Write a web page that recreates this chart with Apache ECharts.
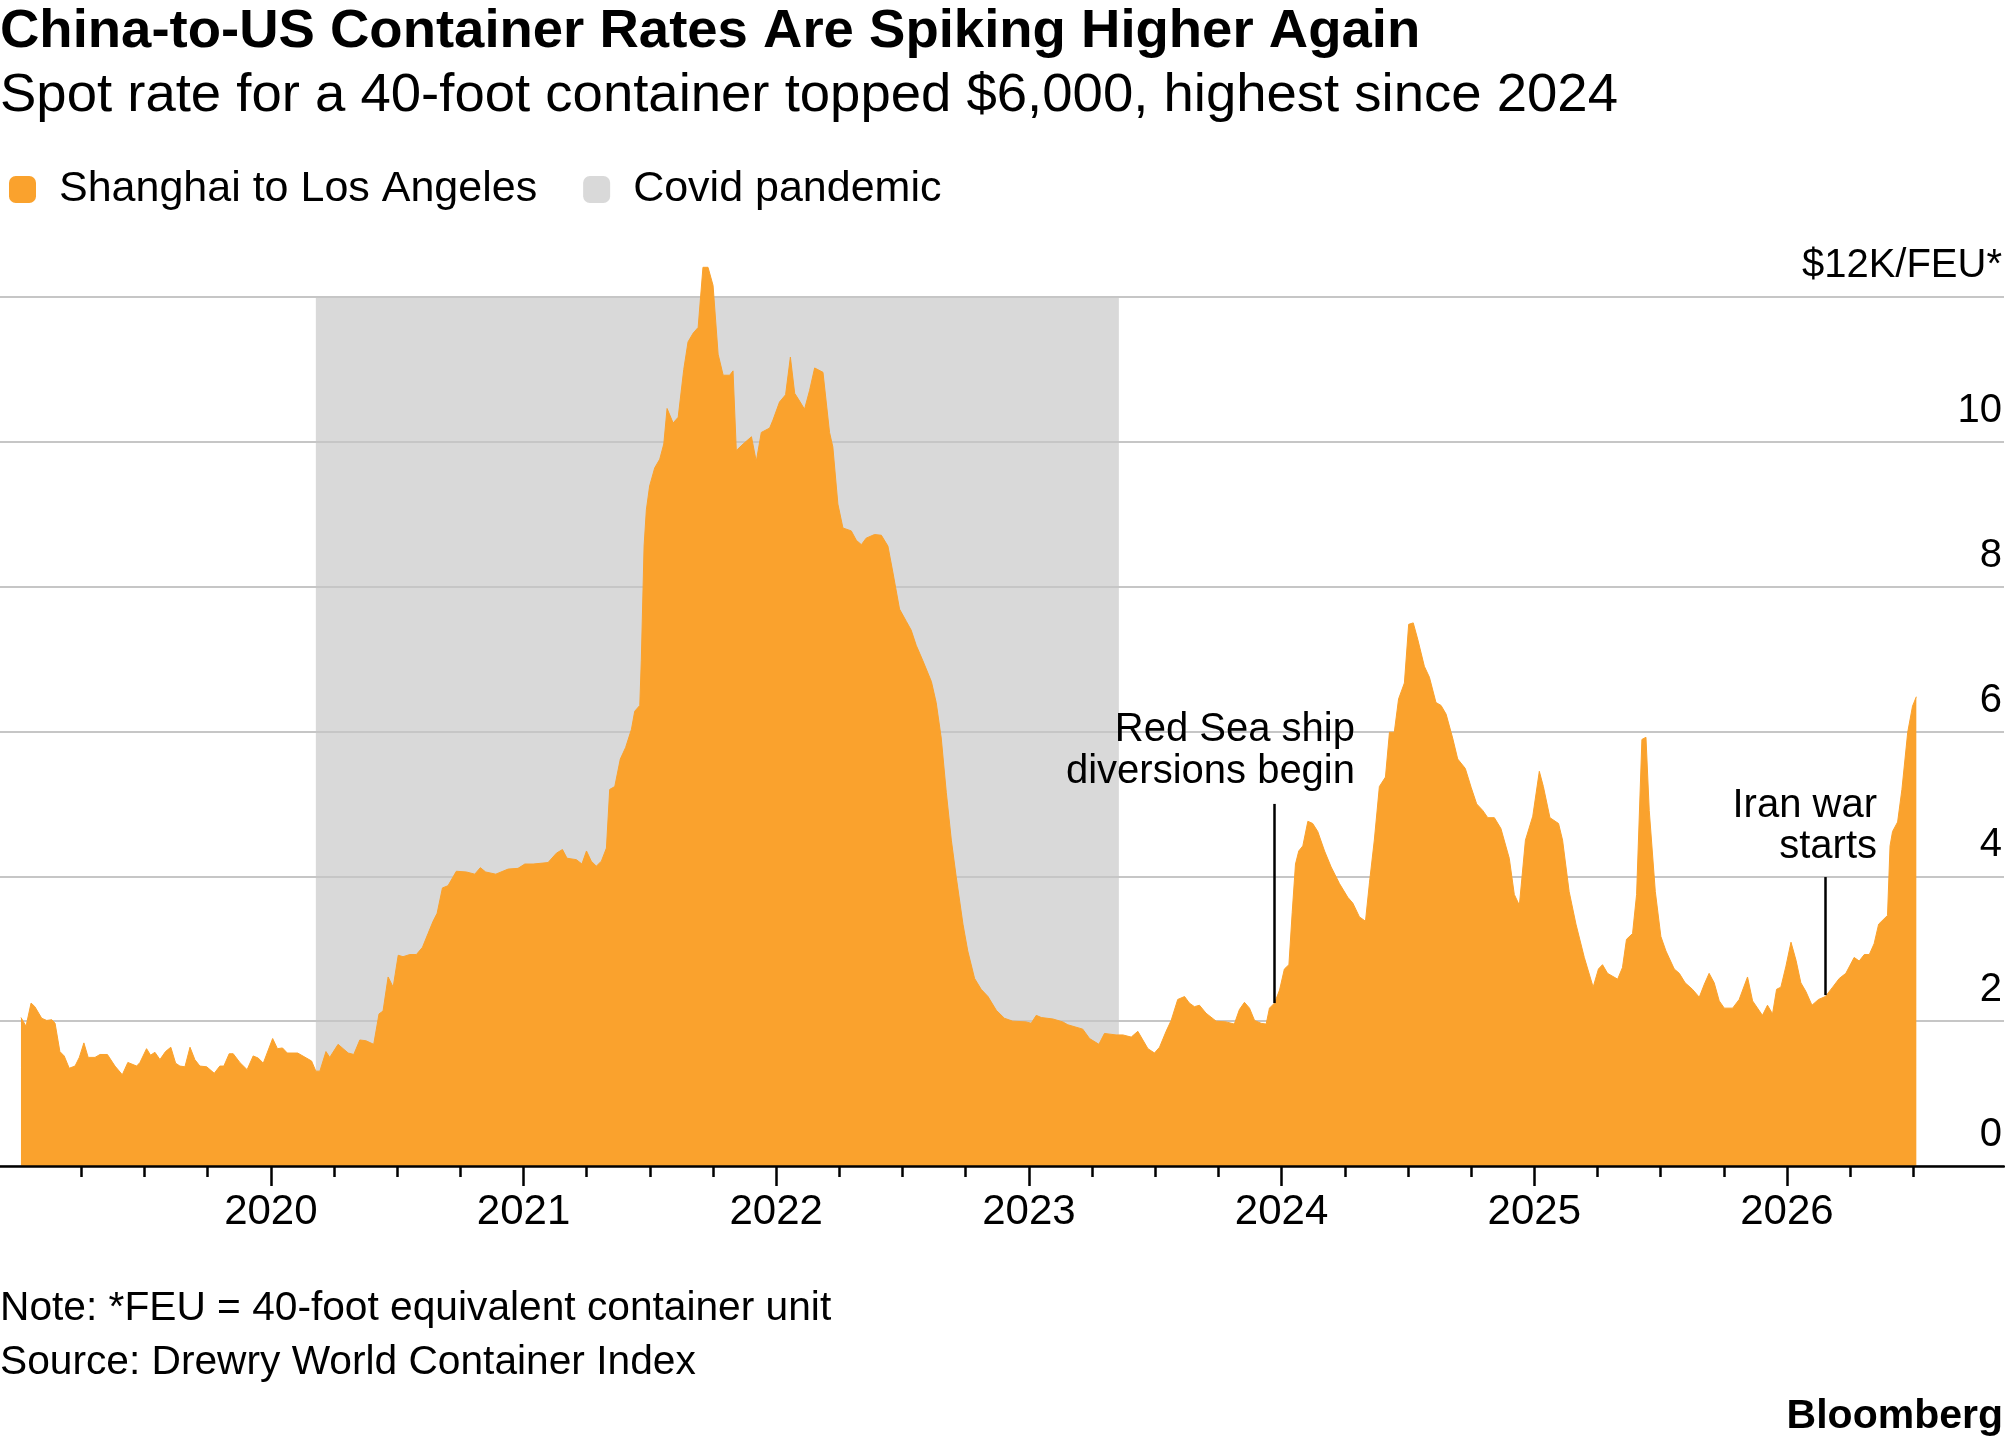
<!DOCTYPE html>
<html>
<head>
<meta charset="utf-8">
<script src="https://cdn.jsdelivr.net/npm/echarts@6/dist/echarts.min.js"></script>
<style>
  html, body { margin: 0; padding: 0; background: #fff; }
  #chart { width: 2005px; height: 1446px; }
</style>
</head>
<body>
<div id="chart"></div>
<script>
// weekly spot rate, Shanghai -> Los Angeles, $K per FEU (x in decimal years)
const dates = [
  2019.011, 2019.031, 2019.051, 2019.066, 2019.093, 2019.113, 2019.133, 2019.146, 2019.165, 2019.182,
  2019.202, 2019.225, 2019.242, 2019.260, 2019.277, 2019.304, 2019.324, 2019.353, 2019.383, 2019.412,
  2019.434, 2019.469, 2019.482, 2019.508, 2019.524, 2019.541, 2019.561, 2019.583, 2019.604, 2019.623,
  2019.640, 2019.660, 2019.680, 2019.699, 2019.719, 2019.746, 2019.776, 2019.798, 2019.814, 2019.835,
  2019.851, 2019.877, 2019.906, 2019.930, 2019.950, 2019.970, 2020.007, 2020.026, 2020.046, 2020.065,
  2020.106, 2020.161, 2020.178, 2020.194, 2020.218, 2020.233, 2020.266, 2020.286, 2020.306, 2020.328,
  2020.352, 2020.376, 2020.407, 2020.428, 2020.444, 2020.464, 2020.484, 2020.504, 2020.523, 2020.550,
  2020.576, 2020.600, 2020.622, 2020.642, 2020.658, 2020.679, 2020.701, 2020.734, 2020.774, 2020.807,
  2020.829, 2020.850, 2020.890, 2020.939, 2020.978, 2021.005, 2021.038, 2021.097, 2021.130, 2021.154,
  2021.172, 2021.209, 2021.231, 2021.249, 2021.268, 2021.288, 2021.308, 2021.328, 2021.341, 2021.361,
  2021.383, 2021.404, 2021.427, 2021.440, 2021.460, 2021.466, 2021.477, 2021.486, 2021.499, 2021.519,
  2021.539, 2021.555, 2021.568, 2021.592, 2021.612, 2021.634, 2021.651, 2021.671, 2021.691, 2021.710,
  2021.730, 2021.750, 2021.770, 2021.790, 2021.816, 2021.829, 2021.842, 2021.869, 2021.902, 2021.921,
  2021.941, 2021.974, 2021.987, 2022.013, 2022.037, 2022.056, 2022.073, 2022.093, 2022.112, 2022.132,
  2022.152, 2022.185, 2022.211, 2022.224, 2022.244, 2022.264, 2022.297, 2022.317, 2022.337, 2022.356,
  2022.389, 2022.416, 2022.442, 2022.462, 2022.488, 2022.515, 2022.534, 2022.554, 2022.580, 2022.614,
  2022.633, 2022.653, 2022.673, 2022.693, 2022.712, 2022.739, 2022.758, 2022.785, 2022.811, 2022.838,
  2022.871, 2022.903, 2022.936, 2022.989, 2023.009, 2023.029, 2023.049, 2023.095, 2023.134, 2023.154,
  2023.213, 2023.240, 2023.277, 2023.299, 2023.345, 2023.372, 2023.405, 2023.431, 2023.471, 2023.497,
  2023.517, 2023.543, 2023.563, 2023.589, 2023.616, 2023.635, 2023.655, 2023.675, 2023.701, 2023.741,
  2023.780, 2023.813, 2023.833, 2023.853, 2023.873, 2023.893, 2023.919, 2023.939, 2023.952, 2023.972,
  2023.992, 2024.011, 2024.029, 2024.042, 2024.055, 2024.068, 2024.084, 2024.104, 2024.123, 2024.143,
  2024.170, 2024.196, 2024.229, 2024.262, 2024.282, 2024.308, 2024.332, 2024.348, 2024.367, 2024.387,
  2024.411, 2024.427, 2024.446, 2024.463, 2024.486, 2024.503, 2024.521, 2024.539, 2024.565, 2024.585,
  2024.611, 2024.631, 2024.651, 2024.677, 2024.697, 2024.727, 2024.750, 2024.772, 2024.796, 2024.816,
  2024.842, 2024.868, 2024.901, 2024.921, 2024.941, 2024.965, 2024.994, 2025.020, 2025.036, 2025.062,
  2025.096, 2025.112, 2025.138, 2025.165, 2025.198, 2025.233, 2025.254, 2025.270, 2025.290, 2025.330,
  2025.349, 2025.365, 2025.389, 2025.405, 2025.426, 2025.442, 2025.455, 2025.479, 2025.501, 2025.521,
  2025.554, 2025.574, 2025.597, 2025.626, 2025.653, 2025.673, 2025.692, 2025.712, 2025.732, 2025.752,
  2025.785, 2025.811, 2025.844, 2025.864, 2025.903, 2025.923, 2025.943, 2025.959, 2025.976, 2025.996,
  2026.016, 2026.036, 2026.055, 2026.075, 2026.099, 2026.125, 2026.152, 2026.181, 2026.207, 2026.233,
  2026.266, 2026.286, 2026.306, 2026.326, 2026.345, 2026.363, 2026.398, 2026.408, 2026.418, 2026.438,
  2026.455, 2026.478, 2026.497, 2026.512
];
const rates = [
  2.05, 1.93, 2.25, 2.20, 2.04, 2.01, 2.02, 1.97, 1.58, 1.52,
  1.35, 1.38, 1.50, 1.70, 1.50, 1.50, 1.54, 1.54, 1.38, 1.26,
  1.43, 1.38, 1.43, 1.62, 1.53, 1.57, 1.47, 1.58, 1.64, 1.42,
  1.38, 1.37, 1.64, 1.47, 1.38, 1.37, 1.28, 1.38, 1.38, 1.55,
  1.55, 1.43, 1.33, 1.52, 1.49, 1.42, 1.76, 1.62, 1.63, 1.56,
  1.56, 1.45, 1.31, 1.31, 1.58, 1.50, 1.68, 1.62, 1.56, 1.54,
  1.74, 1.73, 1.68, 2.10, 2.14, 2.61, 2.47, 2.91, 2.89, 2.92,
  2.92, 3.02, 3.21, 3.38, 3.49, 3.84, 3.87, 4.07, 4.06, 4.03,
  4.12, 4.06, 4.03, 4.10, 4.11, 4.17, 4.17, 4.19, 4.32, 4.37,
  4.25, 4.23, 4.17, 4.35, 4.21, 4.14, 4.21, 4.39, 5.20, 5.24,
  5.62, 5.78, 6.03, 6.28, 6.36, 6.98, 8.56, 9.06, 9.39, 9.64,
  9.76, 9.97, 10.46, 10.26, 10.34, 11.00, 11.38, 11.50, 11.58, 12.41,
  12.41, 12.16, 11.21, 10.92, 10.92, 10.98, 9.88, 9.97, 10.07, 9.73,
  10.13, 10.19, 10.30, 10.55, 10.65, 11.17, 10.67, 10.56, 10.45, 10.71,
  11.02, 10.96, 10.13, 9.93, 9.14, 8.81, 8.77, 8.64, 8.58, 8.67,
  8.72, 8.71, 8.56, 8.19, 7.69, 7.52, 7.40, 7.19, 6.98, 6.69,
  6.40, 5.91, 5.16, 4.50, 4.00, 3.34, 2.97, 2.59, 2.44, 2.34,
  2.15, 2.04, 2.00, 1.99, 1.97, 2.08, 2.05, 2.03, 1.99, 1.95,
  1.89, 1.76, 1.68, 1.83, 1.81, 1.81, 1.78, 1.86, 1.62, 1.56,
  1.64, 1.86, 2.01, 2.30, 2.34, 2.25, 2.20, 2.22, 2.11, 2.00,
  1.99, 1.96, 2.16, 2.26, 2.18, 2.01, 1.97, 1.96, 2.18, 2.25,
  2.43, 2.72, 2.78, 3.50, 4.17, 4.35, 4.42, 4.76, 4.73, 4.62,
  4.35, 4.13, 3.90, 3.71, 3.63, 3.44, 3.38, 3.92, 4.50, 5.24,
  5.37, 5.99, 5.99, 6.45, 6.67, 7.48, 7.50, 7.27, 6.90, 6.75,
  6.40, 6.36, 6.24, 5.91, 5.62, 5.49, 5.23, 5.00, 4.91, 4.81,
  4.81, 4.66, 4.25, 3.75, 3.60, 4.50, 4.83, 5.45, 5.24, 4.81,
  4.73, 4.50, 3.79, 3.34, 2.88, 2.47, 2.72, 2.78, 2.66, 2.58,
  2.74, 3.13, 3.21, 3.75, 5.89, 5.92, 4.91, 3.79, 3.17, 2.97,
  2.72, 2.66, 2.53, 2.44, 2.33, 2.51, 2.66, 2.53, 2.28, 2.18,
  2.18, 2.30, 2.61, 2.28, 2.08, 2.22, 2.10, 2.44, 2.47, 2.76,
  3.09, 2.84, 2.53, 2.41, 2.22, 2.30, 2.34, 2.47, 2.59, 2.66,
  2.88, 2.83, 2.92, 2.92, 3.07, 3.34, 3.46, 4.42, 4.62, 4.75,
  5.20, 5.99, 6.35, 6.48
];

// covid pandemic shading
const covidStart = 2020.178;
const covidEnd = 2023.356;

// annotations: x position, top of leader line, bottom of leader line
const redSea = [2023.969, 5.0, 2.25];
const iranWar = [2026.151, 3.99, 2.36];

const yearLabels = [2020, 2021, 2022, 2023, 2024, 2025, 2026];
const yTicks = [0, 2, 4, 6, 8, 10, 12];

const ORANGE = '#FAA22D';
const GREY = '#d9d9d9';
const FONT = '"Liberation Sans", Arial, sans-serif';

const xMin = 2018.928;
const xMax = 2026.859;

const quarterTicks = [];
for (let y = 2019; y <= 2026; y++) {
  [0.25, 0.5, 0.75].forEach(q => {
    if (y + q <= 2026.5) quarterTicks.push(y + q);
  });
}

const chart = echarts.init(document.getElementById('chart'));

function txt(text, x, y, size, opts) {
  opts = opts || {};
  return {
    type: 'text',
    x: x,
    y: y,
    z: 10,
    style: {
      text: text,
      font: (opts.bold ? 'bold ' : '') + size + 'px ' + FONT,
      fill: '#000',
      textAlign: opts.align || 'left',
      textVerticalAlign: 'middle'
    }
  };
}

const option = {
  animation: false,
  backgroundColor: '#fff',
  grid: { left: 0, right: 0, top: 297, bottom: 280, containLabel: false },
  legend: {
    left: 4,
    top: 163,
    icon: 'roundRect',
    itemWidth: 27,
    itemHeight: 27,
    itemGap: 46,
    selectedMode: false,
    textStyle: { fontFamily: FONT, fontSize: 43, color: '#000', lineHeight: 43, padding: [0, 0, 0, 18] },
    data: [
      { name: 'Shanghai to Los Angeles', itemStyle: { color: ORANGE } },
      { name: 'Covid pandemic', itemStyle: { color: GREY } }
    ]
  },
  xAxis: [
    {
      type: 'value',
      min: xMin,
      max: xMax,
      z: 3,
      axisLine: { show: true, lineStyle: { color: '#000', width: 2.5 } },
      axisTick: { show: true, customValues: quarterTicks, length: 11, lineStyle: { color: '#000', width: 2.5 } },
      axisLabel: {
        show: true,
        customValues: yearLabels,
        formatter: v => String(Math.round(v)),
        margin: 25,
        fontFamily: FONT,
        fontSize: 42,
        color: '#000'
      },
      splitLine: { show: false }
    },
    {
      type: 'value',
      min: xMin,
      max: xMax,
      position: 'bottom',
      z: 3,
      axisLine: { show: false },
      axisTick: { show: true, customValues: yearLabels, length: 20, lineStyle: { color: '#000', width: 2.5 } },
      axisLabel: { show: false },
      splitLine: { show: false }
    }
  ],
  yAxis: {
    type: 'value',
    position: 'right',
    min: 0,
    max: 12,
    interval: 2,
    z: 1,
    axisLine: { show: false },
    axisTick: { show: false },
    splitLine: { show: true, lineStyle: { color: '#c6c6c6', width: 2 } },
    axisLabel: {
      inside: true,
      margin: 2,
      align: 'right',
      verticalAlign: 'bottom',
      padding: [0, 0, 11, 0],
      fontFamily: FONT,
      fontSize: 40,
      color: '#000',
      customValues: yTicks,
      formatter: v => (v === 12 ? '$12K/FEU*' : String(v))
    }
  },
  series: [
    {
      name: 'Covid pandemic',
      type: 'line',
      z: 0,
      data: [[covidStart, 12], [covidEnd, 12]],
      showSymbol: false,
      silent: true,
      itemStyle: { color: GREY },
      lineStyle: { width: 0, color: GREY },
      areaStyle: { color: GREY, opacity: 1 }
    },
    {
      name: 'Shanghai to Los Angeles',
      type: 'line',
      z: 2,
      clip: false,
      data: dates.map((d, i) => [d, rates[i]]),
      showSymbol: false,
      silent: true,
      itemStyle: { color: ORANGE },
      lineStyle: { width: 1, color: ORANGE },
      areaStyle: { color: ORANGE, opacity: 1 },
      markLine: {
        silent: true,
        symbol: ['none', 'none'],
        label: { show: false },
        lineStyle: { color: '#000', width: 2.5, type: 'solid' },
        data: [
          [{ coord: [redSea[0], redSea[1]] }, { coord: [redSea[0], redSea[2]] }],
          [{ coord: [iranWar[0], iranWar[1]] }, { coord: [iranWar[0], iranWar[2]] }]
        ]
      }
    }
  ],
  graphic: [
    txt('China-to-US Container Rates Are Spiking Higher Again', 0, 32, 54.5, { bold: true }),
    txt('Spot rate for a 40-foot container topped $6,000, highest since 2024', 0, 96, 54.5),
    txt('Red Sea ship', 1355, 730, 40, { align: 'right' }),
    txt('diversions begin', 1355, 772, 40, { align: 'right' }),
    txt('Iran war', 1877, 806, 40, { align: 'right' }),
    txt('starts', 1877, 847, 40, { align: 'right' }),
    txt('Note: *FEU = 40-foot equivalent container unit', 0, 1309, 40.7),
    txt('Source: Drewry World Container Index', 0, 1363, 40.7),
    txt('Bloomberg', 2003, 1417, 41, { bold: true, align: 'right' })
  ]
};

chart.setOption(option);
</script>
</body>
</html>
